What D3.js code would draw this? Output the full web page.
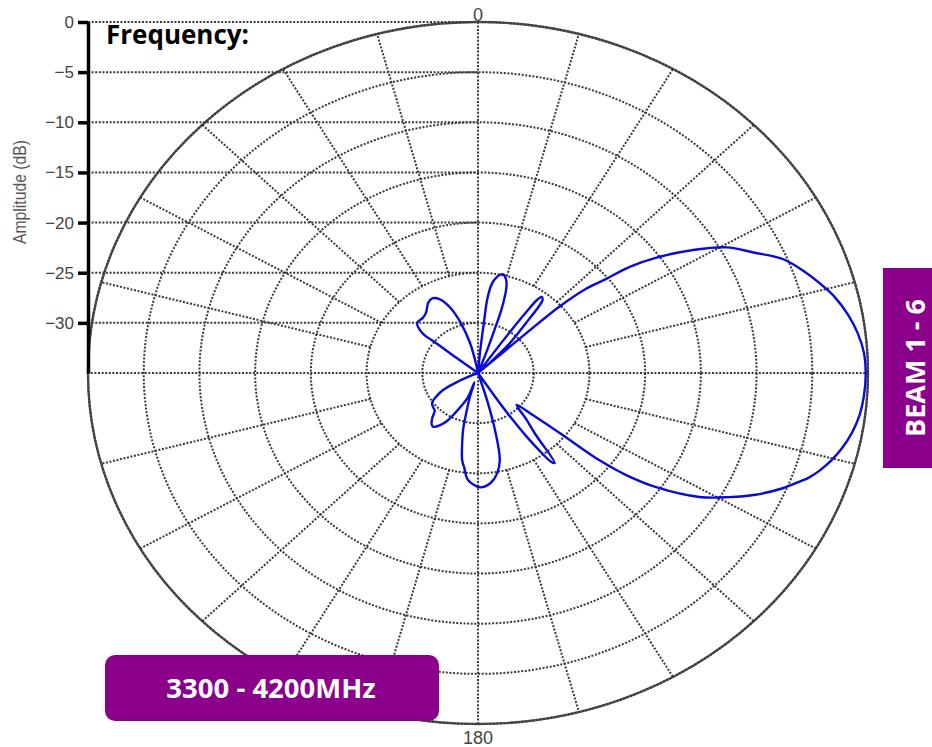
<!DOCTYPE html>
<html>
<head>
<meta charset="utf-8">
<script src="https://cdn.jsdelivr.net/npm/d3@7"></script>
<style>
  body { margin: 0; background: #fff; }
  svg { display: block; }
</style>
</head>
<body>
<svg></svg>
<script>
// pattern: azimuth (deg, clockwise from top) and amplitude (dB)
const angles = [
  0, 4, 5, 6, 6.5, 8, 10, 11.5, 13, 15, 16.5, 17.5, 18.5, 19, 20, 21,
  34, 35, 35.5, 36, 37, 38.5, 39.5, 40.5, 42, 44, 46, 47,
  47.5, 47.8, 49, 50.7, 52.2, 54.4, 57.7, 60.7, 64.1, 67.6, 71, 74.5, 76.7, 80, 83.3, 86.7,
  90, 94, 97, 100, 103, 105.3, 107.5, 109.3, 111, 112.9, 116, 118.8, 121.9, 125.4, 127.4,
  128.6, 129.2, 130.5, 132.5,
  137, 140, 142.5, 143.5, 144.5, 145.5, 146.5, 147, 148,
  161, 163.4, 165, 167.3, 170.4, 174, 179, 184.8, 187.5, 189.3, 191, 193.3, 195, 197, 199,
  200.5, 204, 207.3, 210, 213.1, 216.8, 219, 222.4, 226, 229, 234, 238, 241.5, 244.4, 247, 248,
  306, 308, 308.5, 308.6, 312.5, 318, 322.1, 327.4, 331.1, 335.1, 339, 342.5, 346.5, 349, 350, 360
];
const gainDb = [
  -35, -35, -33, -30, -27.5, -26, -25.3, -25, -24.9, -25.3, -26, -27, -28.5, -30.5, -33, -35,
  -35, -30, -27.5, -26, -25.5, -25.7, -26.5, -28, -29.5, -31, -33.5, -35,
  -30, -25.2, -22.3, -20.3, -17.7, -15.2, -12, -9.4, -7.5, -5.3, -4, -2.8, -2.1, -1.3, -0.7, -0.3,
  -0.2, -0.3, -0.5, -0.9, -1.5, -2.1, -2.8, -3.5, -4.4, -5.4, -7.3, -9.3, -11.6, -15.3, -18.2,
  -21, -25.5, -28.5, -30.3,
  -28.6, -26.9, -23.7, -24, -25.5, -27.3, -30, -32, -35,
  -35, -31.9, -29.1, -26.1, -24.8, -24, -23.6, -24.3, -25.5, -26.2, -27.5, -29.2, -31, -32.5, -34,
  -32.4, -31.5, -30.5, -29.5, -28.8, -28.3, -28.4, -28.9, -29.6, -29.7, -29.9, -30.6, -31.4, -32.9, -34.5, -35,
  -35, -32.5, -30.3, -28.6, -27.6, -27.6, -27.4, -26.7, -26.5, -26.9, -28, -29.6, -31.9, -34, -35, -35
];

const ringTicks = [0, -5, -10, -15, -20, -25, -30];
const spokeAngles = d3.range(0, 360, 15);
const angleLabels = ["0", "180"];
const angleLabelAt = [0, 180];

const width = 932;
const height = 747;
const cx = 478;
const cy = 373;
const rx = 390;
const ry = 351;
const axisX = 88;

const svg = d3.select("svg").attr("width", width).attr("height", height);

const rScale = d3.scaleLinear().domain([-35, 0]).range([0, 1]).clamp(true);
const aScale = d3.scaleLinear().domain([0, 360]).range([0, 2 * Math.PI]);
const yAxisScale = d3.scaleLinear().domain([-35, 0]).range([cy, cy - ry]);

let px = (a, db) => cx + rScale(db) * rx * Math.sin(aScale(a));
let py = (a, db) => cy - rScale(db) * ry * Math.cos(aScale(a));

const dotted = (sel) =>
  sel
    .attr("fill", "none")
    .attr("stroke", "#3a3a3a")
    .attr("stroke-width", 2)
    .attr("stroke-dasharray", "2 1.6");

let drawGrid = () => {
  const g = svg.append("g");

  // outer solid rim
  g.append("ellipse")
    .attr("cx", cx)
    .attr("cy", cy)
    .attr("rx", rx)
    .attr("ry", ry)
    .attr("fill", "none")
    .attr("stroke", "#555")
    .attr("stroke-width", 2.4);

  g.selectAll(".ring")
    .data(ringTicks)
    .enter()
    .append("ellipse")
    .attr("class", "ring")
    .attr("cx", cx)
    .attr("cy", cy)
    .attr("rx", (d) => rScale(d) * rx)
    .attr("ry", (d) => rScale(d) * ry)
    .call(dotted);

  // spokes: the four axes go through the centre, the others start at -25 dB
  g.selectAll(".spoke")
    .data(spokeAngles)
    .enter()
    .append("line")
    .attr("class", "spoke")
    .attr("x1", (a) => px(a, a % 90 === 0 ? -35 : -25))
    .attr("y1", (a) => py(a, a % 90 === 0 ? -35 : -25))
    .attr("x2", (a) => px(a, 0))
    .attr("y2", (a) => py(a, 0))
    .call(dotted);

  // horizontal guides from the amplitude axis to the centre line
  g.selectAll(".hguide")
    .data(ringTicks)
    .enter()
    .append("line")
    .attr("class", "hguide")
    .attr("x1", axisX)
    .attr("x2", cx)
    .attr("y1", (d) => yAxisScale(d))
    .attr("y2", (d) => yAxisScale(d))
    .call(dotted);

  g.selectAll(".alabel")
    .data(angleLabels)
    .enter()
    .append("text")
    .attr("class", "alabel")
    .attr("x", (d, i) => px(angleLabelAt[i], 0))
    .attr("y", (d, i) => (angleLabelAt[i] === 0 ? py(0, 0) - 1 : py(180, 0) + 20))
    .attr("text-anchor", "middle")
    .attr("font-family", "Liberation Sans, Arial, sans-serif")
    .attr("font-size", 18)
    .attr("fill", "#444")
    .text((d) => d);
};

let drawAxis = () => {
  const yAxis = d3
    .axisLeft(yAxisScale)
    .tickValues(ringTicks)
    .tickSize(10)
    .tickSizeOuter(0)
    .tickPadding(4);

  const g = svg
    .append("g")
    .attr("transform", "translate(" + axisX + ", 0)")
    .call(yAxis);

  g.select(".domain").attr("stroke", "#000").attr("stroke-width", 3.5);
  g.selectAll(".tick line").attr("stroke", "#000").attr("stroke-width", 3.5);
  g.selectAll(".tick text")
    .attr("font-family", "Liberation Sans, Arial, sans-serif")
    .attr("font-size", 17)
    .attr("fill", "#444");

  svg
    .append("text")
    .attr("transform", "translate(26, 192) rotate(-90)")
    .attr("text-anchor", "middle")
    .attr("font-family", "Liberation Sans, Arial, sans-serif")
    .attr("font-size", 19)
    .attr("textLength", 104)
    .attr("lengthAdjust", "spacingAndGlyphs")
    .attr("fill", "#555")
    .text("Amplitude (dB)");
};

let drawPattern = () => {
  const pts = angles.map((a, i) => [a, gainDb[i]]);
  const line = d3
    .line()
    .x((d) => px(d[0], d[1]))
    .y((d) => py(d[0], d[1]))
    .curve(d3.curveCatmullRom.alpha(0.5));

  svg
    .append("path")
    .datum(pts)
    .attr("d", line)
    .attr("fill", "none")
    .attr("stroke", "#0a0ad8")
    .attr("stroke-width", 2.4)
    .attr("stroke-linejoin", "round");
};

let drawLabels = () => {
  const font = "'Open Sans', Lato, sans-serif";

  svg
    .append("text")
    .attr("x", 106)
    .attr("y", 44)
    .attr("font-family", font)
    .attr("font-weight", "bold")
    .attr("font-size", 26)
    .attr("fill", "#000")
    .text("Frequency:");

  svg
    .append("rect")
    .attr("x", 105)
    .attr("y", 655)
    .attr("width", 334)
    .attr("height", 66)
    .attr("rx", 10)
    .attr("fill", "#8b008b");

  svg
    .append("text")
    .attr("x", 271)
    .attr("y", 698)
    .attr("text-anchor", "middle")
    .attr("font-family", font)
    .attr("font-weight", "bold")
    .attr("font-size", 27.5)
    .attr("fill", "#fff")
    .text("3300 - 4200MHz");

  svg
    .append("rect")
    .attr("x", 883)
    .attr("y", 268)
    .attr("width", 49)
    .attr("height", 200)
    .attr("fill", "#8b008b");

  svg
    .append("text")
    .attr("transform", "translate(925, 368) rotate(-90)")
    .attr("text-anchor", "middle")
    .attr("font-family", font)
    .attr("font-weight", "bold")
    .attr("font-size", 27)
    .attr("fill", "#fff")
    .text("BEAM 1 - 6");
};

drawGrid();
drawAxis();
drawPattern();
drawLabels();
</script>
</body>
</html>
